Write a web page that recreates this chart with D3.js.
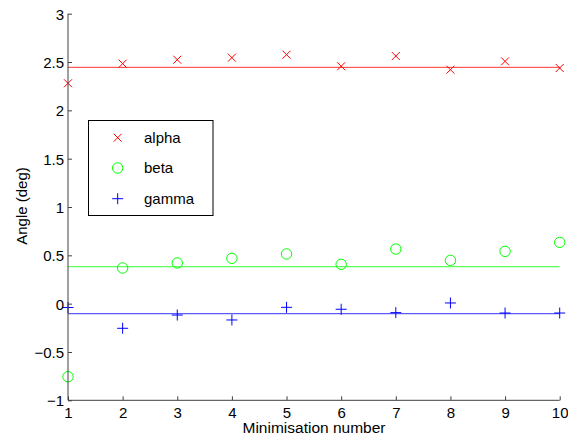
<!DOCTYPE html>
<html><head><meta charset="utf-8">
<script src="https://cdn.jsdelivr.net/npm/d3@7"></script>
<style>body{margin:0;background:#fff}svg{display:block}text{font-family:"Liberation Sans",Arial,sans-serif;}</style>
</head><body><svg id="c" width="568" height="439"></svg>
<script>
const runs = [1,2,3,4,5,6,7,8,9,10];
const alpha = [2.28,2.483,2.524,2.545,2.576,2.456,2.562,2.421,2.507,2.438];
const beta = [-0.756,0.369,0.421,0.469,0.514,0.407,0.565,0.448,0.541,0.634];
const gamma = [-0.04,-0.255,-0.118,-0.169,-0.038,-0.058,-0.093,0.007,-0.097,-0.097];
const means = {alpha:2.445, beta:0.382, gamma:-0.104};
const yTicks = [-1,-0.5,0,0.5,1,1.5,2,2.5,3];
const xTicks = [1,2,3,4,5,6,7,8,9,10];
const seriesNames = ["alpha","beta","gamma"];
const colors = {alpha:"#ff0000", beta:"#00ff00", gamma:"#0000ff"};

const FS = 15;
const svg = d3.select("#c");
const x = d3.scaleLinear().domain([1,10]).range([68,559.7]);
const y = d3.scaleLinear().domain([-1,3]).range([400.3,13.7]);

// mean lines
seriesNames.forEach(s=>{
  svg.append("line").attr("x1",x(1)).attr("x2",x(10))
    .attr("y1",y(means[s])).attr("y2",y(means[s]))
    .attr("stroke",colors[s]).attr("stroke-width",1).attr("stroke-opacity",0.8);
});

function marker(g, type, cx, cy, col){
  if(type==="alpha"){
    const r=4;
    g.append("path").attr("d",`M${cx-r},${cy-r}L${cx+r},${cy+r}M${cx-r},${cy+r}L${cx+r},${cy-r}`)
      .attr("stroke",col).attr("stroke-width",1).attr("fill","none");
  } else if(type==="beta"){
    g.append("circle").attr("cx",cx).attr("cy",cy).attr("r",5.2)
      .attr("stroke",col).attr("stroke-width",1).attr("fill","none");
  } else {
    const r=5.5;
    g.append("path").attr("d",`M${cx-r},${cy}L${cx+r},${cy}M${cx},${cy-r}L${cx},${cy+r}`)
      .attr("stroke",col).attr("stroke-width",1).attr("fill","none");
  }
}
const data = {alpha, beta, gamma};
const mg = svg.append("g");
seriesNames.forEach(s=>{
  runs.forEach((r,i)=>marker(mg, s, x(r), y(data[s][i]), colors[s]));
});

// axes
const axCol = "#404040";
const yAxis = svg.append("g").attr("transform",`translate(${x(1)},0)`)
  .call(d3.axisRight(y).tickValues(yTicks).tickSize(4).tickFormat(d=>d3.format("")(d).replace("-","\u2212")));
yAxis.selectAll("text").attr("x",-4).attr("dy","0.36em").attr("text-anchor","end").attr("font-size",FS).attr("fill","#000")
  .style("font-family","Liberation Sans, Arial, sans-serif");
const xAxis = svg.append("g").attr("transform",`translate(0,${y(-1)})`)
  .call(d3.axisTop(x).tickValues(xTicks).tickSize(4));
xAxis.selectAll("text").attr("y",17.4).attr("dy","0").attr("font-size",FS).attr("fill","#000")
  .style("font-family","Liberation Sans, Arial, sans-serif");
svg.selectAll(".tick line").attr("stroke",axCol);
yAxis.select(".domain").remove();
xAxis.select(".domain").remove();
svg.append("line").attr("x1",x(1)).attr("x2",x(1)).attr("y1",y(3)).attr("y2",y(-1)).attr("stroke",axCol);
svg.append("line").attr("x1",x(1)).attr("x2",x(10)).attr("y1",y(-1)).attr("y2",y(-1)).attr("stroke",axCol);

// labels
svg.append("text").attr("x",314).attr("y",433).attr("text-anchor","middle").attr("font-size",15.5)
  .text("Minimisation number");
svg.append("text").attr("transform","translate(27,206) rotate(-90)").attr("text-anchor","middle").attr("font-size",FS)
  .text("Angle (deg)");

// legend
const lg = svg.append("g");
lg.append("rect").attr("x",88.5).attr("y",120.5).attr("width",124.5).attr("height",95)
  .attr("fill","#fff").attr("stroke","#000").attr("stroke-width",1);
const ly = [137.7,168,198.7];
seriesNames.forEach((s,i)=>{
  marker(lg, s, 117.7, ly[i], colors[s]);
  lg.append("text").attr("x",144).attr("y",ly[i]).attr("dy","0.35em").attr("font-size",FS).text(s);
});
</script></body></html>
